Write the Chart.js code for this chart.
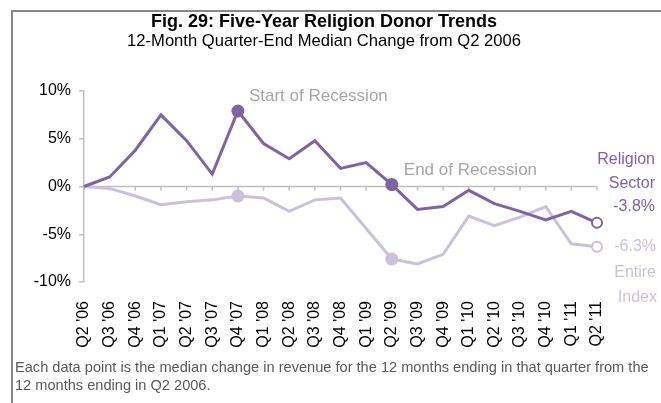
<!DOCTYPE html>
<html>
<head>
<meta charset="utf-8">
<script src="https://cdn.jsdelivr.net/npm/chart.js@4"></script>
<style>
body{margin:0;background:#fff}
canvas{display:block}
</style>
</head>
<body>
<canvas id="chart" width="661" height="403"></canvas>
<script>
const quarters=["Q2 '06","Q3 '06","Q4 '06","Q1 '07","Q2 '07","Q3 '07","Q4 '07","Q1 '08","Q2 '08","Q3 '08","Q4 '08",
  "Q1 '09","Q2 '09","Q3 '09","Q4 '09","Q1 '10","Q2 '10","Q3 '10","Q4 '10","Q1 '11","Q2 '11"];
const religion=[0,1.0,3.8,7.5,4.8,1.3,7.9,4.5,2.9,4.8,1.9,2.5,0.2,-2.4,-2.1,-0.4,-1.8,-2.6,-3.5,-2.6,-3.8];
const entireIndex=[0,-0.2,-1.0,-1.9,-1.6,-1.4,-1.0,-1.2,-2.6,-1.4,-1.2,-4.4,-7.6,-8.1,-7.1,-3.1,-4.1,-3.2,-2.1,-6.0,-6.3];
const yTicks=[-10,-5,0,5,10];
const recessionStart=6, recessionEnd=12;

const FONT='"Liberation Sans", Arial, sans-serif';
const PURPLE='#8064A2', LAVENDER='#CCC1DA', NOTE='#A6A6A6';
const last=quarters.length-1;

function radii(r){return quarters.map((q,i)=>i===recessionStart||i===recessionEnd?r:i===last?5:0);}
function fills(col){return quarters.map((q,i)=>i===last?'#fff':col);}

const decor={
  id:'decor',
  beforeDraw(chart){
    const c=chart.ctx;
    c.save();
    c.fillStyle='#fff';c.fillRect(0,0,chart.width,chart.height);
    c.strokeStyle='#868686';c.lineWidth=2;
    c.strokeRect(12,11,800,600);
    c.textAlign='center';c.textBaseline='middle';c.fillStyle='#000';
    c.font='bold 18px '+FONT;
    c.fillText('Fig. 29: Five-Year Religion Donor Trends',324,22);
    c.font='16.6px '+FONT;
    c.fillText('12-Month Quarter-End Median Change from Q2 2006',324,41);
    c.textAlign='left';c.fillStyle='#595959';c.font='14.6px '+FONT;
    c.fillText('Each data point is the median change in revenue for the 12 months ending in that quarter from the',15,368);
    c.fillText('12 months ending in Q2 2006.',15,386);
    c.restore();
  },
  beforeDatasetsDraw(chart){
    // horizontal axis line at 0% with tick marks
    const c=chart.ctx, x=chart.scales.x, y0=chart.scales.y.getPixelForValue(0);
    c.save();
    c.strokeStyle='#BFBFBF';c.lineWidth=1.5;
    c.beginPath();
    c.moveTo(x.left,y0);c.lineTo(x.right,y0);
    quarters.forEach((q,i)=>{const px=x.getPixelForValue(i);c.moveTo(px,y0);c.lineTo(px,y0+4);});
    c.stroke();
    c.restore();
  },
  afterDatasetsDraw(chart){
    const c=chart.ctx;
    const rel=chart.getDatasetMeta(0).data, ent=chart.getDatasetMeta(1).data;
    c.save();
    c.textBaseline='middle';c.textAlign='left';
    c.font='17px '+FONT;c.fillStyle=NOTE;
    c.fillText('Start of Recession',rel[recessionStart].x+11,rel[recessionStart].y-15);
    c.fillText('End of Recession',rel[recessionEnd].x+12,rel[recessionEnd].y-14);
    c.textAlign='right';c.font='16px '+FONT;
    const rx=rel[last].x+58;
    c.fillStyle=PURPLE;
    c.fillText('Religion',rx,rel[last].y-63);
    c.fillText('Sector',rx,rel[last].y-39);
    c.fillText(religion[last].toFixed(1)+'%',rx,rel[last].y-16);
    c.fillStyle=LAVENDER;
    c.fillText(entireIndex[last].toFixed(1)+'%',rx+1,ent[last].y);
    c.fillText('Entire',rx+1,ent[last].y+26);
    c.fillText('Index',rx+2,ent[last].y+51);
    c.restore();
  }
};

new Chart(document.getElementById('chart'),{
  type:'line',
  data:{labels:quarters,datasets:[{
    label:'Religion Sector',
    data:religion,
    borderColor:PURPLE,
    borderWidth:3,
    pointRadius:radii(5.5),
    pointBackgroundColor:fills(PURPLE),
    pointBorderColor:PURPLE,
    pointBorderWidth:2,
    tension:0,
    clip:false
  },{
    label:'Entire Index',
    data:entireIndex,
    borderColor:LAVENDER,
    borderWidth:3,
    pointRadius:radii(5.5),
    pointBackgroundColor:fills(LAVENDER),
    pointBorderColor:LAVENDER,
    pointBorderWidth:2,
    tension:0,
    clip:false
  }]},
  options:{
    responsive:false,
    animation:false,
    layout:{padding:{top:91,right:64,bottom:0,left:0}},
    plugins:{legend:{display:false},tooltip:{enabled:false}},
    scales:{
      x:{
        offset:false,
        afterFit:s=>{s.height=121;},
        grid:{display:false},
        border:{display:false},
        ticks:{minRotation:90,maxRotation:90,autoSkip:false,padding:11,color:'#000',font:{family:FONT,size:16}}
      },
      y:{
        min:-10,max:10,
        afterFit:s=>{s.width=84;},
        afterBuildTicks:s=>{s.ticks=yTicks.map(v=>({value:v}));},
        grid:{display:true,drawOnChartArea:false,drawTicks:true,tickLength:5,color:'#BFBFBF',lineWidth:1.5},
        border:{color:'#BFBFBF',width:1.5},
        ticks:{padding:8,color:'#000',font:{family:FONT,size:16},callback:v=>v+'%'}
      }
    }
  },
  plugins:[decor]
});
</script>
</body>
</html>
